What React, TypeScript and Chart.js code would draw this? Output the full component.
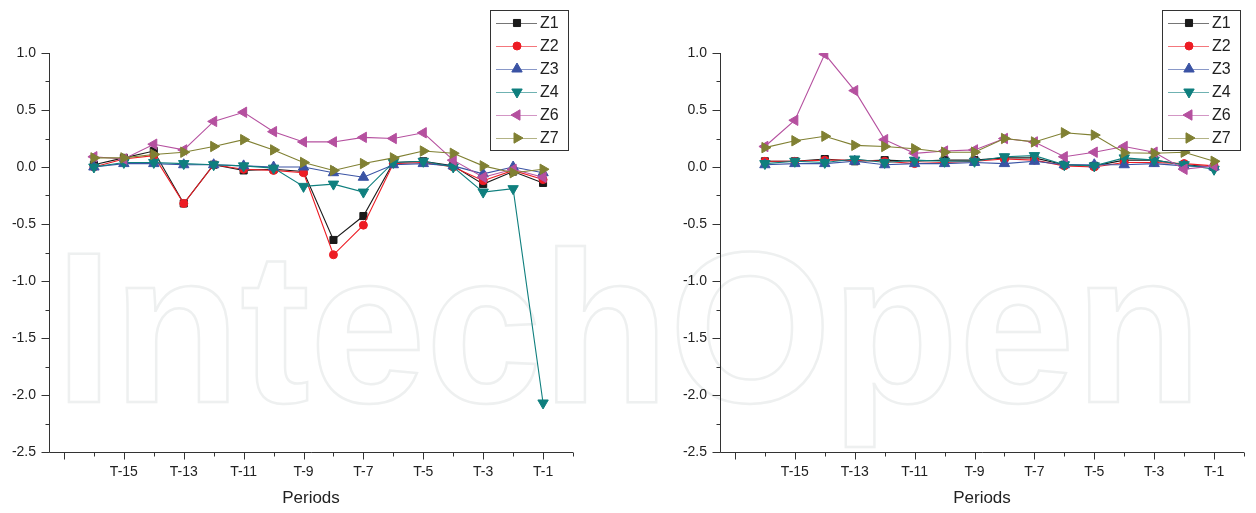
import React, { useEffect, useRef } from 'react';
import { Chart, registerables } from 'chart.js';

Chart.register(...registerables);

const FONT = '"Liberation Sans", Arial, Helvetica, sans-serif';

// ---- data ----
const periods = [-16, -15, -14, -13, -12, -11, -10, -9, -8, -7, -6, -5, -4, -3, -2, -1];
const seriesNames = ['Z1', 'Z2', 'Z3', 'Z4', 'Z6', 'Z7'];
const xLabelValues = [-15, -13, -11, -9, -7, -5, -3, -1];
const yLabelValues = [1.0, 0.5, 0.0, -0.5, -1.0, -1.5, -2.0, -2.5];

// left panel
const leftZ1 = [0.02, 0.08, 0.14, -0.32, 0.02, -0.03, -0.02, -0.04, -0.64, -0.43, 0.04, 0.05, 0.01, -0.15, -0.04, -0.14];
const leftZ2 = [0.0, 0.07, 0.1, -0.32, 0.02, -0.02, -0.03, -0.05, -0.77, -0.51, 0.03, 0.04, 0.0, -0.12, -0.03, -0.11];
const leftZ3 = [0.0, 0.03, 0.03, 0.02, 0.02, 0.01, 0.0, 0.0, -0.05, -0.09, 0.02, 0.03, 0.01, -0.06, 0.0, -0.05];
const leftZ4 = [0.0, 0.04, 0.04, 0.03, 0.02, 0.01, -0.01, -0.17, -0.15, -0.22, 0.04, 0.05, 0.0, -0.22, -0.19, -2.07];
const leftZ6 = [0.09, 0.07, 0.2, 0.15, 0.4, 0.48, 0.31, 0.22, 0.22, 0.26, 0.25, 0.3, 0.06, -0.09, -0.02, -0.09];
const leftZ7 = [0.08, 0.08, 0.11, 0.13, 0.18, 0.24, 0.15, 0.04, -0.03, 0.03, 0.08, 0.14, 0.12, 0.01, -0.05, -0.02];

// right panel
const rightZ1 = [0.05, 0.05, 0.07, 0.05, 0.06, 0.05, 0.06, 0.06, 0.08, 0.08, 0.02, 0.01, 0.06, 0.06, 0.02, 0.0];
const rightZ2 = [0.05, 0.05, 0.06, 0.06, 0.05, 0.03, 0.04, 0.05, 0.07, 0.06, 0.01, 0.0, 0.04, 0.04, 0.03, 0.01];
const rightZ3 = [0.02, 0.03, 0.03, 0.05, 0.02, 0.03, 0.03, 0.04, 0.03, 0.05, 0.02, 0.02, 0.02, 0.03, 0.01, 0.0];
const rightZ4 = [0.03, 0.05, 0.04, 0.07, 0.04, 0.06, 0.05, 0.05, 0.09, 0.1, 0.02, 0.01, 0.08, 0.06, 0.02, -0.02];
const rightZ6 = [0.18, 0.41, 0.99, 0.67, 0.24, 0.12, 0.14, 0.15, 0.25, 0.22, 0.09, 0.13, 0.18, 0.13, -0.02, 0.01];
const rightZ7 = [0.17, 0.23, 0.27, 0.19, 0.18, 0.16, 0.13, 0.13, 0.25, 0.22, 0.3, 0.28, 0.125, 0.12, 0.13, 0.05];

// ---- styles ----
const colors = ['#1a1a1a', '#ed1c24', '#3a53a4', '#0f7f7e', '#b5509f', '#808033'];
const markerStyles = ['rect', 'circle', 'triangle', 'triangle', 'triangle', 'triangle'];
const markerRotations = [0, 0, 0, 180, 270, 90];
const markerRadii = [5, 4, 6, 6, 6, 6];

function drawMarker(ctx: CanvasRenderingContext2D, i: number, x: number, y: number) {
  const style = markerStyles[i];
  const r = markerRadii[i];
  ctx.save();
  ctx.fillStyle = colors[i];
  ctx.strokeStyle = colors[i];
  ctx.lineWidth = 1;
  ctx.beginPath();
  if (style === 'rect') {
    const s = r * Math.SQRT1_2;
    ctx.rect(x - s, y - s, 2 * s, 2 * s);
  } else if (style === 'circle') {
    ctx.arc(x, y, r, 0, Math.PI * 2);
  } else {
    let rad = (markerRotations[i] * Math.PI) / 180;
    ctx.moveTo(x + Math.sin(rad) * r, y - Math.cos(rad) * r);
    rad += (2 * Math.PI) / 3;
    ctx.lineTo(x + Math.sin(rad) * r, y - Math.cos(rad) * r);
    rad += (2 * Math.PI) / 3;
    ctx.lineTo(x + Math.sin(rad) * r, y - Math.cos(rad) * r);
    ctx.closePath();
  }
  ctx.fill();
  ctx.stroke();
  ctx.restore();
}

const axesPlugin = {
  id: 'originAxes',
  beforeDatasetsDraw(chart: any) {
    const { ctx, chartArea } = chart;
    const { left, right, top, bottom } = chartArea;
    const x = chart.scales.x;
    const y = chart.scales.y;
    ctx.save();
    ctx.strokeStyle = '#333';
    ctx.lineWidth = 1;
    ctx.beginPath();
    const L = Math.round(left) + 0.5;
    const B = Math.round(bottom) + 0.5;
    ctx.moveTo(L, top);
    ctx.lineTo(L, B);
    ctx.lineTo(right, B);
    for (let v = -17; v <= 0; v++) {
      const px = Math.round(x.getPixelForValue(v)) + 0.5;
      const len = v % 2 !== 0 ? 7 : 4;
      ctx.moveTo(px, B);
      ctx.lineTo(px, B + len);
    }
    for (let k = 0; k <= 14; k++) {
      const v = -2.5 + k * 0.25;
      const py = Math.round(y.getPixelForValue(v)) + 0.5;
      const len = k % 2 === 0 ? 8 : 4;
      ctx.moveTo(L, py);
      ctx.lineTo(L - len, py);
    }
    ctx.stroke();
    ctx.restore();
  },
};

const boxLegendPlugin = {
  id: 'boxLegend',
  afterDatasetsDraw(chart: any, _args: any, opts: any) {
    const { ctx } = chart;
    const bx = opts.x;
    const by = opts.y;
    const bw = opts.w;
    const bh = opts.h;
    ctx.save();
    ctx.fillStyle = '#fff';
    ctx.fillRect(bx, by, bw, bh);
    ctx.strokeStyle = '#333';
    ctx.lineWidth = 1;
    ctx.strokeRect(bx + 0.5, by + 0.5, bw, bh);
    ctx.font = `16px ${FONT}`;
    ctx.textBaseline = 'middle';
    ctx.textAlign = 'left';
    seriesNames.forEach((name, i) => {
      const ry = by + 13 + i * 23;
      ctx.save();
      ctx.globalAlpha = 0.6;
      ctx.strokeStyle = colors[i];
      ctx.beginPath();
      ctx.moveTo(bx + 6, ry + 0.5);
      ctx.lineTo(bx + 47, ry + 0.5);
      ctx.stroke();
      ctx.restore();
      drawMarker(ctx, i, bx + 27, ry);
      ctx.fillStyle = '#222';
      ctx.fillText(name, bx + 50, ry + 1);
    });
    ctx.restore();
  },
};

function buildConfig(series: number[][], leftW: number, padRight: number, legendX: number) {
  const datasets = series.map((vals, i) => ({
    label: seriesNames[i],
    data: periods.map((p, j) => ({ x: p, y: vals[j] })),
    borderColor: colors[i],
    backgroundColor: colors[i],
    borderWidth: 1.1,
    pointStyle: markerStyles[i],
    pointRotation: markerRotations[i],
    pointRadius: markerRadii[i],
    pointBorderWidth: 1,
    pointHoverRadius: markerRadii[i],
    tension: 0,
    fill: false,
    order: series.length - 1 - i,
  }));
  return {
    type: 'line' as const,
    data: { datasets },
    plugins: [axesPlugin, boxLegendPlugin],
    options: {
      animation: false as const,
      responsive: true,
      maintainAspectRatio: false,
      events: [],
      layout: { padding: { left: 0, right: padRight, top: 53, bottom: 0 } },
      plugins: {
        legend: { display: false },
        tooltip: { enabled: false },
        boxLegend: { x: legendX, y: 10, w: 78, h: 140 },
      },
      scales: {
        x: {
          type: 'linear',
          min: -17.5,
          max: 0,
          afterFit: (s: any) => {
            s.height = 61;
          },
          grid: { display: false, drawTicks: false },
          border: { display: false },
          ticks: {
            stepSize: 1,
            autoSkip: false,
            maxRotation: 0,
            includeBounds: false,
            padding: 12,
            color: '#222',
            font: { size: 14, family: FONT },
            callback: (v: any) => (xLabelValues.includes(Math.round(v)) && Math.abs(v - Math.round(v)) < 1e-6 ? `T${Math.round(v)}` : ''),
          },
          title: {
            display: true,
            text: 'Periods',
            color: '#222',
            font: { size: 17, family: FONT },
            padding: { top: 0, bottom: 4 },
          },
        },
        y: {
          type: 'linear',
          min: -2.5,
          max: 1.0,
          afterFit: (s: any) => {
            s.width = leftW;
          },
          grid: { display: false, drawTicks: false },
          border: { display: false },
          ticks: {
            stepSize: 0.25,
            autoSkip: false,
            padding: 13,
            color: '#222',
            font: { size: 14, family: FONT },
            callback: (v: any) => {
              const m = yLabelValues.find((t) => Math.abs(t - v) < 1e-6);
              return m === undefined ? '' : m.toFixed(1);
            },
          },
        },
      },
    },
  };
}

function Panel(props: { series: number[][]; leftW: number; padRight: number; legendX: number; left: number }) {
  const ref = useRef<HTMLCanvasElement | null>(null);
  useEffect(() => {
    if (!ref.current) return;
    const chart = new Chart(ref.current, buildConfig(props.series, props.leftW, props.padRight, props.legendX) as any);
    return () => chart.destroy();
  }, []);
  return (
    <div style={{ position: 'absolute', left: props.left, top: 0, width: 628, height: 513 }}>
      <canvas ref={ref} />
    </div>
  );
}

export default function App() {
  Chart.defaults.font.family = FONT;
  return (
    <div style={{ position: 'fixed', left: 0, top: 0, width: 1256, height: 513, background: '#fff', overflow: 'hidden' }}>
      <div
        style={{
          position: 'absolute',
          left: 55,
          top: 220,
          fontFamily: FONT,
          fontWeight: 'bold',
          fontSize: 215,
          lineHeight: 1,
          whiteSpace: 'nowrap',
          color: 'transparent',
          WebkitTextStroke: '2.5px #eef0f0',
          transform: 'scaleX(0.97)',
          transformOrigin: '0 0',
          userSelect: 'none',
        }}
      >
        IntechOpen
      </div>
      <Panel series={[leftZ1, leftZ2, leftZ3, leftZ4, leftZ6, leftZ7]} leftW={49} padRight={55} legendX={490} left={0} />
      <Panel series={[rightZ1, rightZ2, rightZ3, rightZ4, rightZ6, rightZ7]} leftW={92} padRight={12} legendX={534} left={628} />
    </div>
  );
}
